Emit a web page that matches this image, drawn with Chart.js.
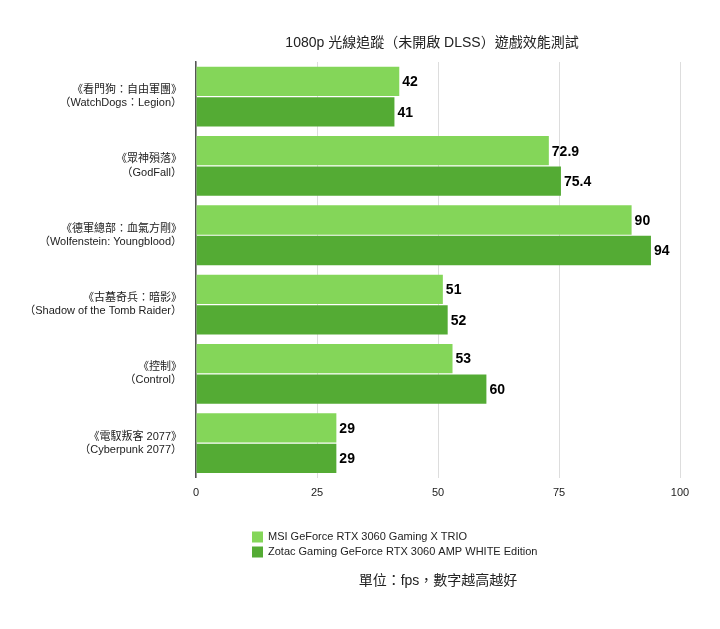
<!DOCTYPE html>
<html><head><meta charset="utf-8">
<script src="https://cdn.jsdelivr.net/npm/chart.js@4"></script>
<style>html,body{margin:0;background:#fff}#w{width:720px;height:629px}</style>
</head><body><div id="w"><canvas id="c"></canvas></div>
<script>
const categories = [
  ["《看門狗：自由軍團》","（WatchDogs：Legion）"],
  ["《眾神殞落》","（GodFall）"],
  ["《德軍總部：血氣方剛》","（Wolfenstein: Youngblood）"],
  ["《古墓奇兵：暗影》","（Shadow of the Tomb Raider）"],
  ["《控制》","（Control）"],
  ["《電馭叛客 2077》","（Cyberpunk 2077）"]
];
const msiValues = [42, 72.9, 90, 51, 53, 29];
const zotacValues = [41, 75.4, 94, 52, 60, 29];
const seriesNames = ["MSI GeForce RTX 3060 Gaming X TRIO","Zotac Gaming GeForce RTX 3060 AMP WHITE Edition"];
const xTicks = [0, 25, 50, 75, 100];
const titleText = '1080p 光線追蹤（未開啟 DLSS）遊戲效能測試';
const footerText = '單位：fps，數字越高越好';
const colors = ['#84d659','#54ab34'];

const FONT = "'Liberation Sans','Noto Sans CJK TC',sans-serif";
const extras = {
  id:'extras',
  afterDraw(chart){
    const ctx = chart.ctx, a = chart.chartArea;
    const cx = (a.left+a.right)/2;
    ctx.save();
    ctx.font = "bold 14px "+FONT;
    ctx.fillStyle = "#000";
    ctx.textBaseline = "middle";
    chart.data.datasets.forEach((ds,i)=>{
      chart.getDatasetMeta(i).data.forEach((bar,j)=>{
        ctx.fillText(String(ds.data[j]), bar.x+3, bar.y+1);
      });
    });
    ctx.fillStyle = "#222";
    ctx.textAlign = "center";
    ctx.font = "14px "+FONT;
    ctx.fillText(titleText, cx-6, 43);
    ctx.fillText(footerText, cx, 581);
    ctx.textAlign = "left";
    ctx.font = "11px "+FONT;
    seriesNames.forEach((n,i)=>{
      const y = 537 + i*15;
      ctx.fillStyle = colors[i];
      ctx.fillRect(252, y-5.5, 11, 11);
      ctx.fillStyle = "#222";
      ctx.fillText(n, 268, y);
    });
    ctx.restore();
  }
};
new Chart(document.getElementById('c'), {
  type:'bar',
  data:{labels:categories, datasets:[
    {label:seriesNames[0], data:msiValues, backgroundColor:colors[0]},
    {label:seriesNames[1], data:zotacValues, backgroundColor:colors[1]}
  ]},
  options:{
    indexAxis:'y', responsive:true, maintainAspectRatio:false, animation:false,
    categoryPercentage:0.88, barPercentage:0.96,
    layout:{padding:{left:4,right:40,top:62,bottom:120}},
    scales:{
      x:{min:0,max:100,afterBuildTicks(s){s.ticks=xTicks.map(v=>({value:v}));},
         grid:{color:'#dddddd',drawTicks:false}, border:{display:false},
         ticks:{color:'#222',font:{size:11,family:FONT},padding:9}},
      y:{grid:{display:false}, border:{color:'#555',width:1.5},
         afterFit(s){s.width=192;},
         ticks:{color:'#222',font:{size:11,family:FONT},padding:6}}
    },
    plugins:{legend:{display:false},title:{display:false},tooltip:{enabled:false}}
  },
  plugins:[extras]
});
</script></body></html>
